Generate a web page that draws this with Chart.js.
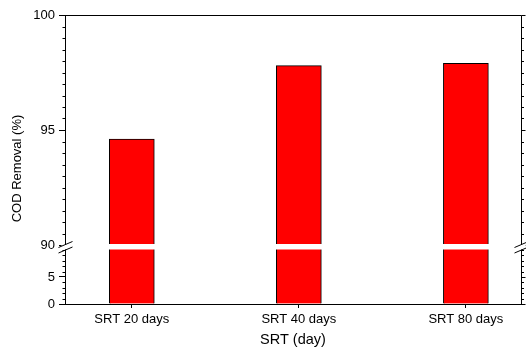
<!DOCTYPE html>
<html><head><meta charset="utf-8">
<script src="https://cdn.jsdelivr.net/npm/chart.js@4.4.1/dist/chart.umd.min.js"></script>
<style>html,body{margin:0;padding:0;background:#fff}#wrap{width:526px;height:347px}</style>
</head><body><div id="wrap"><canvas id="c" width="526" height="347"></canvas></div>
<script>
// ---- data ----
const categories = ['SRT 20 days', 'SRT 40 days', 'SRT 80 days'];
const codRemoval = [94.6, 97.8, 97.9];
const upperTickValues = [90, 95, 100];
const lowerTickValues = [0, 5];
const xTitle = 'SRT (day)';
const yTitle = 'COD Removal (%)';

// ---- axis ranges ----
const UPPER_MIN = 90, UPPER_MAX = 100, UPPER_MINOR = 0.5;
const LOWER_MIN = 0, LOWER_MAX = 10.9, LOWER_TICK_MAX = 10, LOWER_MINOR = 1;

const FONT = 'Liberation Sans, Arial, sans-serif';
Chart.defaults.font.family = FONT;
Chart.defaults.font.size = 13;
Chart.defaults.color = '#000';

const upperData = codRemoval.map((v, i) => ({x: i + 1, y: [UPPER_MIN, v]}));
const lowerData = codRemoval.map((v, i) => ({x: i + 1, y: Math.min(v, LOWER_MAX)}));

const framePlugin = {
  id: 'frame',
  afterDatasetsDraw(chart) {
    const {ctx, chartArea: a, scales} = chart;
    const up = scales.yUp, lo = scales.yLow;
    ctx.save();
    ctx.strokeStyle = '#000';
    ctx.lineWidth = 1;
    const R = Math.round(a.right) + 0.5, T = Math.round(a.top) + 0.5, L = Math.round(a.left) + 0.5;
    ctx.beginPath();
    ctx.moveTo(L, T); ctx.lineTo(R, T);
    ctx.moveTo(R, T); ctx.lineTo(R, a.bottom);
    ctx.stroke();
    function minorTicks(scale, from, to, step, majors) {
      const n = Math.round((to - from) / step);
      for (let k = 0; k <= n; k++) {
        const v = from + k * step;
        const y = Math.round(scale.getPixelForValue(v)) + 0.5;
        const major = majors.some(m => Math.abs(m - v) < 1e-6);
        ctx.beginPath();
        if (!major) { ctx.moveTo(L - 3, y); ctx.lineTo(L, y); }
        ctx.moveTo(R, y); ctx.lineTo(R + (major ? 4 : 2.5), y);
        ctx.stroke();
      }
    }
    minorTicks(up, UPPER_MIN, UPPER_MAX, UPPER_MINOR, upperTickValues);
    minorTicks(lo, LOWER_MIN, LOWER_TICK_MAX, LOWER_MINOR, lowerTickValues);
    // axis break
    const yb = up.bottom;
    ctx.fillStyle = '#fff';
    ctx.fillRect(L - 4, yb - 1, (R - L) + 8, 5.5);
    ctx.beginPath();
    [L, R].forEach(x => {
      ctx.moveTo(x - 7, yb + 2.5); ctx.lineTo(x + 7, yb - 3.5);
      ctx.moveTo(x - 7, yb + 8); ctx.lineTo(x + 7, yb + 2);
    });
    ctx.stroke();
    ctx.restore();
  },
  afterDraw(chart) {
    const {ctx} = chart;
    ctx.save();
    ctx.fillStyle = '#000';
    ctx.font = '13px ' + FONT;
    ctx.textAlign = 'center';
    ctx.textBaseline = 'middle';
    ctx.translate(17, 168.5);
    ctx.rotate(-Math.PI / 2);
    ctx.fillText(yTitle, 0, 0);
    ctx.restore();
  }
};

const barStyle = {
  backgroundColor: '#ff0000',
  borderColor: '#000',
  borderWidth: 1,
  borderSkipped: 'start',
  barThickness: 45,
  grouped: false
};

new Chart(document.getElementById('c'), {
  type: 'bar',
  data: {
    datasets: [
      Object.assign({label: 'lower', data: lowerData, yAxisID: 'yLow'}, barStyle),
      Object.assign({label: 'upper', data: upperData, yAxisID: 'yUp'}, barStyle)
    ]
  },
  options: {
    responsive: false,
    animation: false,
    devicePixelRatio: 1,
    layout: {padding: {top: 15, right: 5, left: 0, bottom: 0}},
    plugins: {legend: {display: false}, tooltip: {enabled: false}},
    scales: {
      x: {
        type: 'linear',
        offset: false,
        min: 0.6, max: 3.33,
        afterBuildTicks: s => { s.ticks = categories.map((_, i) => ({value: i + 1})); },
        afterFit: s => { s.height = 43; },
        ticks: {callback: v => categories[v - 1], padding: 4, maxRotation: 0, autoSkip: false, font: {size: 13}},
        grid: {offset: false, drawOnChartArea: false, tickLength: 4, color: '#000', tickColor: '#000'},
        border: {color: '#000', width: 1},
        title: {display: true, text: xTitle, font: {size: 14.5, lineHeight: 1}, padding: {top: 0, bottom: 0}}
      },
      yLow: {
        type: 'linear', position: 'left', stack: 'y', stackWeight: 59,
        min: LOWER_MIN, max: LOWER_MAX,
        afterBuildTicks: s => { s.ticks = lowerTickValues.map(v => ({value: v})); },
        afterFit: s => { s.width = 65; },
        ticks: {padding: 4, autoSkip: false, font: {size: 13}},
        grid: {drawOnChartArea: false, tickLength: 6, color: '#000', tickColor: '#000'},
        border: {color: '#000', width: 1}
      },
      yUp: {
        type: 'linear', position: 'left', stack: 'y', stackWeight: 230,
        min: UPPER_MIN, max: UPPER_MAX,
        afterBuildTicks: s => { s.ticks = upperTickValues.map(v => ({value: v})); },
        afterFit: s => { s.width = 65; },
        ticks: {padding: 4, autoSkip: false, font: {size: 13}},
        grid: {drawOnChartArea: false, tickLength: 6, color: '#000', tickColor: '#000'},
        border: {color: '#000', width: 1}
      }
    }
  },
  plugins: [framePlugin]
});
</script>
</body></html>
